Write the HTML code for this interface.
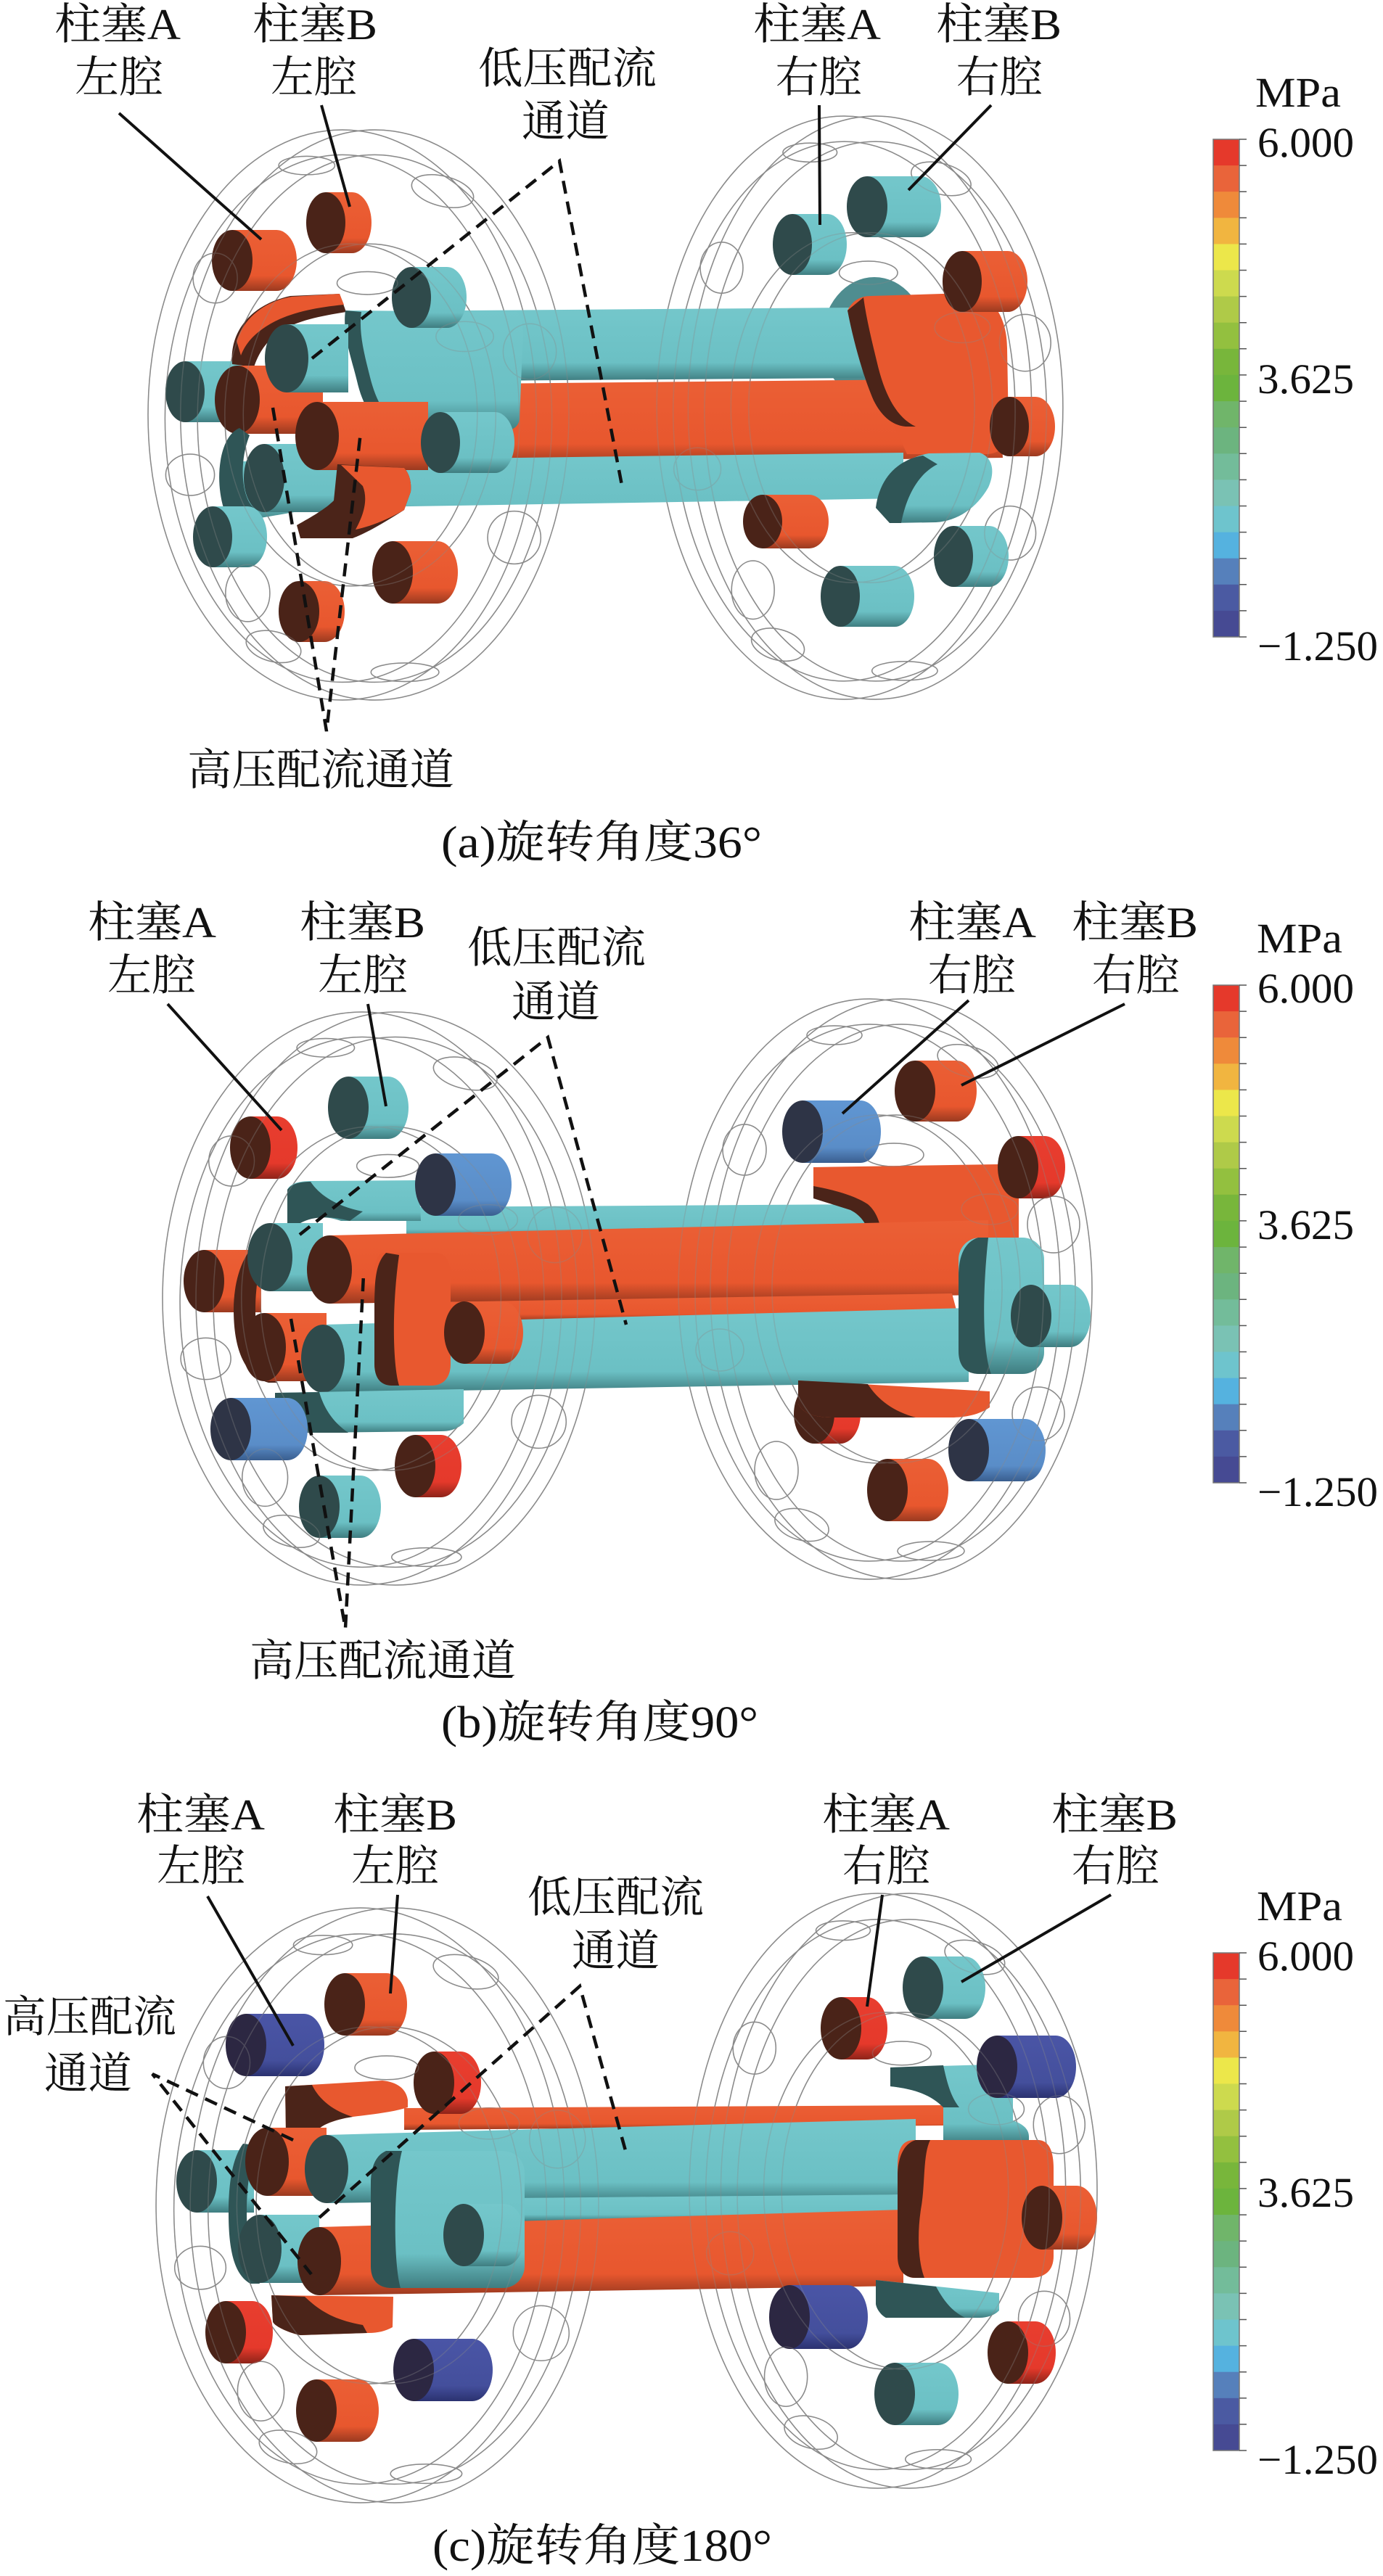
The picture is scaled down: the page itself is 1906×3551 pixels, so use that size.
<!DOCTYPE html>
<html><head><meta charset="utf-8">
<style>
html,body{margin:0;padding:0;background:#fff}
svg{display:block}
.o{fill:url(#go)}.c{fill:url(#gc)}.r{fill:url(#gr)}.b{fill:url(#gb)}.i{fill:url(#gi)}
.fo{fill:#4a2318}.fc{fill:#2f4a4b}.fb{fill:#2e3446}.fi{fill:#2c2742}
.dk{fill:#4b2419}.dc{fill:#2f5556}.of{fill:#e8582f}
.t{font-family:"Liberation Serif","Noto Serif CJK SC",serif;font-size:60px;fill:#111}
.n{font-family:"Liberation Serif",serif;font-size:58px;fill:#111}
.ld{stroke:#111;stroke-width:4;fill:none}
.ds{stroke:#111;stroke-width:4.5;fill:none;stroke-dasharray:18 11}
</style></head><body>
<svg xmlns="http://www.w3.org/2000/svg" xmlns:xlink="http://www.w3.org/1999/xlink" width="1906" height="3551" viewBox="0 0 1906 3551">
<defs>
<linearGradient id="go" x1="0" y1="0" x2="0" y2="1"><stop offset="0" stop-color="#eb5f35"/><stop offset="0.75" stop-color="#e8572e"/><stop offset="1" stop-color="#9a3a20"/></linearGradient>
<linearGradient id="gc" x1="0" y1="0" x2="0" y2="1"><stop offset="0" stop-color="#74c7cb"/><stop offset="0.75" stop-color="#6bc0c4"/><stop offset="1" stop-color="#3f7d80"/></linearGradient>
<linearGradient id="gr" x1="0" y1="0" x2="0" y2="1"><stop offset="0" stop-color="#e83e2f"/><stop offset="0.75" stop-color="#e5392b"/><stop offset="1" stop-color="#8e2419"/></linearGradient>
<linearGradient id="gb" x1="0" y1="0" x2="0" y2="1"><stop offset="0" stop-color="#6096d2"/><stop offset="0.75" stop-color="#5a8dc8"/><stop offset="1" stop-color="#3a5e8f"/></linearGradient>
<linearGradient id="gi" x1="0" y1="0" x2="0" y2="1"><stop offset="0" stop-color="#4a55a6"/><stop offset="0.75" stop-color="#444f9c"/><stop offset="1" stop-color="#2b3270"/></linearGradient>
<g id="rings" fill="none" stroke="#8a8a8a" stroke-width="1.5">
<ellipse cx="-22" cy="0" rx="263" ry="400" vector-effect="non-scaling-stroke"/>
<ellipse cx="22" cy="0" rx="263" ry="400" vector-effect="non-scaling-stroke"/>
<ellipse cx="-22" cy="5" rx="240" ry="370" vector-effect="non-scaling-stroke"/>
<ellipse cx="22" cy="5" rx="240" ry="370" vector-effect="non-scaling-stroke"/>
<ellipse cx="-10" cy="0" rx="171" ry="240" vector-effect="non-scaling-stroke"/>
<ellipse cx="15" cy="0" rx="171" ry="240" vector-effect="non-scaling-stroke"/>
<ellipse cx="-70" cy="-350" rx="38" ry="13" vector-effect="non-scaling-stroke"/>
<ellipse cx="114" cy="-314" rx="43" ry="21" transform="rotate(15 114 -314)" vector-effect="non-scaling-stroke"/>
<ellipse cx="-228" cy="84" rx="33" ry="29" vector-effect="non-scaling-stroke"/>
<ellipse cx="-115" cy="325" rx="38" ry="21" transform="rotate(15 -115 325)" vector-effect="non-scaling-stroke"/>
<ellipse cx="63" cy="361" rx="46" ry="13" vector-effect="non-scaling-stroke"/>
<ellipse cx="12" cy="-185" rx="41" ry="16" vector-effect="non-scaling-stroke"/>
<ellipse cx="232" cy="-89" rx="36" ry="39" vector-effect="non-scaling-stroke"/>
<ellipse cx="-194" cy="-192" rx="30" ry="35" vector-effect="non-scaling-stroke"/>
<ellipse cx="144" cy="-110" rx="39" ry="21" vector-effect="non-scaling-stroke"/>
<ellipse cx="211" cy="172" rx="36" ry="37" vector-effect="non-scaling-stroke"/>
<ellipse cx="-150" cy="250" rx="30" ry="40" vector-effect="non-scaling-stroke"/>
</g>
<g id="cbar">
<rect x="0" y="0" width="36" height="36.6" fill="#e5392b"/>
<rect x="0" y="36.1" width="36" height="36.6" fill="#e9643a"/>
<rect x="0" y="72.2" width="36" height="36.6" fill="#ef8a3a"/>
<rect x="0" y="108.3" width="36" height="36.6" fill="#f1b540"/>
<rect x="0" y="144.4" width="36" height="36.6" fill="#ece74a"/>
<rect x="0" y="180.5" width="36" height="36.6" fill="#cdda4e"/>
<rect x="0" y="216.6" width="36" height="36.6" fill="#afca48"/>
<rect x="0" y="252.7" width="36" height="36.6" fill="#93c03f"/>
<rect x="0" y="288.8" width="36" height="36.6" fill="#78b63b"/>
<rect x="0" y="324.9" width="36" height="36.6" fill="#6cb43d"/>
<rect x="0" y="361.1" width="36" height="36.6" fill="#70b56a"/>
<rect x="0" y="397.2" width="36" height="36.6" fill="#6cb47f"/>
<rect x="0" y="433.3" width="36" height="36.6" fill="#73bc9a"/>
<rect x="0" y="469.4" width="36" height="36.6" fill="#7ac2b4"/>
<rect x="0" y="505.5" width="36" height="36.6" fill="#6ec4cd"/>
<rect x="0" y="541.6" width="36" height="36.6" fill="#55b2df"/>
<rect x="0" y="577.7" width="36" height="36.6" fill="#5680bb"/>
<rect x="0" y="613.8" width="36" height="36.6" fill="#4b5aa2"/>
<rect x="0" y="649.9" width="36" height="36.1" fill="#464a93"/>
<rect x="0" y="0" width="36" height="686" fill="none" stroke="#777" stroke-width="1.5"/>
<path d="M36,0H46M36,36.1H46M36,72.2H46M36,108.3H46M36,144.4H46M36,180.5H46M36,216.6H46M36,252.7H46M36,288.8H46M36,324.9H46M36,361.1H46M36,397.2H46M36,433.3H46M36,469.4H46M36,505.5H46M36,541.6H46M36,577.7H46M36,613.8H46M36,649.9H46M36,686H46" stroke="#555" stroke-width="1.5"/>
</g>
</defs>

<rect x="0" y="0" width="1906" height="3551" fill="#fff"/>

<!-- ================= PANEL (a) ================= -->
<use xlink:href="#rings" href="#rings" transform="translate(494,572) scale(1.0175,0.9825)"/>
<use xlink:href="#rings" href="#rings" transform="translate(1185,562) scale(0.982,1.005)"/>
<ellipse cx="1205" cy="468" rx="72" ry="86" fill="#4f8d90"/>
<path class="c" d="M640,428L1178,424L1190,521L640,525Z"/>
<path class="o" d="M560,530L1375,522L1382,631L560,642Z"/>
<path class="of" d="M1168,428C1175,414 1186,408 1200,408L1330,404C1370,404 1388,440 1388,480L1390,592C1390,615 1378,625 1360,626L1250,626L1232,586C1210,562 1196,522 1186,482Z"/>
<path class="dk" d="M1168,428C1176,470 1190,520 1204,552C1214,572 1228,586 1248,588L1262,588C1236,576 1220,545 1210,505C1202,472 1194,440 1190,410Z"/>
<path class="c" d="M330,636L1245,624L1245,687L440,700L330,719Z"/>
<path class="c" d="M1207,700C1215,660 1240,632 1280,625L1350,624C1368,630 1372,650 1362,672C1346,700 1320,718 1290,720L1228,721Z"/>
<path class="dc" d="M1207,700C1212,660 1236,634 1272,628L1292,640C1262,655 1248,690 1242,721L1226,721Z"/>
<path class="c" d="M255,498H340V582H255Z"/><ellipse class="fc" cx="255" cy="540" rx="27" ry="42"/>
<path class="dk" d="M320,502C316,458 345,420 400,408L468,405L477,430C440,436 410,442 388,456C366,470 356,488 350,506Z"/>
<path class="of" d="M326,470C336,440 362,416 402,409L468,405L474,420C432,424 396,432 370,448C350,460 338,474 332,490Z"/>
<path class="c" d="M476,428L712,430C722,440 722,460 720,480L716,578C714,590 705,594 690,594L545,594C515,585 500,560 492,525C484,492 472,462 476,428Z"/>
<path class="dc" d="M476,428C472,462 484,492 492,525C500,560 515,585 545,594L560,594C532,580 518,552 510,520C502,488 494,458 498,430Z"/>
<path class="o" d="M327,504H445V598H327Z"/><ellipse class="fo" cx="327" cy="551" rx="31" ry="47"/>
<path class="c" d="M395,447H480V541H395Z"/><ellipse class="fc" cx="395" cy="494" rx="30" ry="47"/>
<path class="dc" d="M330,590C302,602 296,660 308,700C316,714 328,720 345,720L350,700C334,688 328,640 344,600Z"/>
<path class="c" d="M364,612H470V706H364Z"/><ellipse class="fc" cx="364" cy="659" rx="28" ry="47"/>
<path class="o" d="M437,554H590V648H437Z"/><ellipse class="fo" cx="437" cy="601" rx="30" ry="47"/>
<path class="dk" d="M465,640L557,645C566,655 567,668 566,678L557,703C530,720 505,735 486,742L414,742L409,724C430,712 448,702 460,690Z"/>
<path class="of" d="M470,641L557,645C566,655 567,668 566,678L557,703C535,716 510,726 490,730C500,712 508,690 500,670Z"/>
<path class="c" d="M607,568H682A27,42 0 0 1 682,652H607Z"/><ellipse class="fc" cx="607" cy="610" rx="27" ry="42"/>
<path class="c" d="M567,368H616A27,42 0 0 1 616,452H567Z"/><ellipse class="fc" cx="567" cy="410" rx="27" ry="42"/>
<path class="o" d="M320,317H381A28,42 0 0 1 381,401H320Z"/><ellipse class="fo" cx="320" cy="359" rx="28" ry="42"/>
<path class="o" d="M449,265H485A27,42 0 0 1 485,349H449Z"/><ellipse class="fo" cx="449" cy="307" rx="27" ry="42"/>
<path class="c" d="M293,698H341A27,42 0 0 1 341,782H293Z"/><ellipse class="fc" cx="293" cy="740" rx="27" ry="42"/>
<path class="o" d="M541,746H603A28,43 0 0 1 603,832H541Z"/><ellipse class="fo" cx="541" cy="789" rx="28" ry="43"/>
<path class="o" d="M412,801H447A28,42 0 0 1 447,885H412Z"/><ellipse class="fo" cx="412" cy="843" rx="28" ry="42"/>
<path class="c" d="M1092,295H1140A27,42 0 0 1 1140,379H1092Z"/><ellipse class="fc" cx="1092" cy="337" rx="27" ry="42"/>
<path class="c" d="M1195,243H1269A28,42 0 0 1 1269,327H1195Z"/><ellipse class="fc" cx="1195" cy="285" rx="28" ry="42"/>
<path class="o" d="M1326,346H1389A27,42 0 0 1 1389,430H1326Z"/><ellipse class="fo" cx="1326" cy="388" rx="27" ry="42"/>
<path class="o" d="M1391,547H1427A27,41 0 0 1 1427,629H1391Z"/><ellipse class="fo" cx="1391" cy="588" rx="27" ry="41"/>
<path class="o" d="M1051,682H1115A27,37 0 0 1 1115,756H1051Z"/><ellipse class="fo" cx="1051" cy="719" rx="27" ry="37"/>
<path class="c" d="M1314,725H1363A27,42 0 0 1 1363,809H1314Z"/><ellipse class="fc" cx="1314" cy="767" rx="27" ry="42"/>
<path class="c" d="M1158,780H1233A27,42 0 0 1 1233,864H1158Z"/><ellipse class="fc" cx="1158" cy="822" rx="27" ry="42"/>
<g opacity="0.35">
<use xlink:href="#rings" href="#rings" transform="translate(494,572) scale(1.0175,0.9825)"/>
<use xlink:href="#rings" href="#rings" transform="translate(1185,562) scale(0.982,1.005)"/>
</g>
<path class="ld" d="M164,156L360,330M443,145L482,285M1129,145L1130,310M1366,145L1252,262"/>
<path class="ds" d="M430,494L771,222L858,674"/>
<path class="ds" d="M376,562L450,1008L497,596"/>
<text class="t" x="75" y="54" textLength="174" lengthAdjust="spacingAndGlyphs">柱塞A</text>
<text class="t" x="103" y="127" textLength="122" lengthAdjust="spacingAndGlyphs">左腔</text>
<text class="t" x="348" y="54" textLength="172" lengthAdjust="spacingAndGlyphs">柱塞B</text>
<text class="t" x="373" y="127" textLength="119" lengthAdjust="spacingAndGlyphs">左腔</text>
<text class="t" x="659" y="115" textLength="246" lengthAdjust="spacingAndGlyphs">低压配流</text>
<text class="t" x="719" y="188" textLength="121" lengthAdjust="spacingAndGlyphs">通道</text>
<text class="t" x="1038" y="54" textLength="176" lengthAdjust="spacingAndGlyphs">柱塞A</text>
<text class="t" x="1069" y="127" textLength="119" lengthAdjust="spacingAndGlyphs">右腔</text>
<text class="t" x="1290" y="54" textLength="173" lengthAdjust="spacingAndGlyphs">柱塞B</text>
<text class="t" x="1318" y="127" textLength="119" lengthAdjust="spacingAndGlyphs">右腔</text>
<text class="t" x="258" y="1082" textLength="368" lengthAdjust="spacingAndGlyphs">高压配流通道</text>
<text class="t" x="608" y="1182" textLength="442" lengthAdjust="spacingAndGlyphs" style="font-size:62px">(a)旋转角度36°</text>
<use xlink:href="#cbar" href="#cbar" transform="translate(1672,192)"/>
<text class="n" x="1730" y="147" textLength="118" lengthAdjust="spacingAndGlyphs">MPa</text>
<text class="n" x="1733" y="216" textLength="133" lengthAdjust="spacingAndGlyphs">6.000</text>
<text class="n" x="1733" y="542" textLength="133" lengthAdjust="spacingAndGlyphs">3.625</text>
<text class="n" x="1733" y="910" textLength="166" lengthAdjust="spacingAndGlyphs">−1.250</text>

<!-- ================= PANEL (b) ================= -->
<use xlink:href="#rings" href="#rings" transform="translate(522,1790) scale(1.0456,0.9875)"/>
<use xlink:href="#rings" href="#rings" transform="translate(1220,1777)"/>
<path class="c" d="M560,1664L1200,1660L1200,1702L560,1706Z"/>
<path class="c" d="M396,1640C400,1632 410,1628 430,1628L578,1627L580,1683L470,1683C450,1676 430,1676 414,1685L396,1686Z"/>
<path class="dc" d="M396,1640C402,1632 412,1629 428,1629C442,1650 468,1664 500,1670L482,1683C456,1676 432,1676 414,1686L396,1686Z"/>
<path class="of" d="M1121,1609L1375,1605C1398,1605 1404,1625 1404,1650L1404,1745C1404,1762 1395,1770 1380,1770L1195,1772L1195,1660C1170,1650 1140,1645 1121,1642Z"/>
<path class="dk" d="M1121,1635C1148,1640 1178,1648 1196,1660C1210,1672 1214,1690 1216,1708L1200,1708C1196,1690 1188,1676 1172,1668L1121,1652Z"/>
<path class="o" d="M454,1703L1362,1682L1362,1785L454,1797Z"/>
<path class="o" d="M600,1795L1312,1783L1320,1813L600,1821Z"/>
<path class="c" d="M445,1826L1335,1803L1335,1905L445,1920Z"/>
<rect class="c" x="1321" y="1706" width="118" height="188" rx="30"/>
<path class="dc" d="M1348,1706C1330,1712 1321,1730 1321,1760L1321,1862C1321,1882 1330,1894 1350,1894L1366,1894C1356,1870 1352,1800 1362,1706Z"/>
<path class="r" d="M1122,1908H1158A28,41 0 0 1 1158,1990H1122Z"/><ellipse class="fo" cx="1122" cy="1949" rx="28" ry="41"/>
<path class="of" d="M1100,1903L1364,1918L1364,1940C1350,1950 1330,1954 1311,1954L1150,1954C1125,1954 1107,1950 1100,1935Z"/>
<path class="dk" d="M1100,1903L1196,1908C1210,1930 1232,1946 1262,1954L1150,1954C1125,1954 1107,1950 1100,1935Z"/>
<path class="o" d="M281,1723H360V1809H281Z"/><ellipse class="fo" cx="281" cy="1766" rx="28" ry="43"/>
<path class="dk" d="M365,1706C335,1720 322,1765 322,1805C322,1850 332,1895 370,1906L382,1906C360,1890 352,1850 352,1805C352,1765 360,1725 382,1706Z"/>
<path class="c" d="M372,1686H445V1780H372Z"/><ellipse class="fc" cx="372" cy="1733" rx="31" ry="47"/>
<ellipse class="fo" cx="454" cy="1750" rx="31" ry="47"/>
<path class="o" d="M364,1810H450V1904H364Z"/><ellipse class="fo" cx="364" cy="1857" rx="30" ry="47"/>
<ellipse class="fc" cx="445" cy="1873" rx="30" ry="47"/>
<path class="of" d="M530,1727L600,1727C615,1727 621,1740 621,1760L621,1880C621,1900 610,1910 595,1910L540,1910C525,1910 516,1895 516,1880L516,1760C516,1740 520,1727 530,1727Z"/>
<path class="dk" d="M532,1727C519,1740 516,1760 516,1800L516,1880C516,1900 525,1910 540,1910L550,1910C541,1880 540,1800 550,1730Z"/>
<path class="o" d="M640,1794H693A28,43 0 0 1 693,1880H640Z"/><ellipse class="fo" cx="640" cy="1837" rx="28" ry="43"/>
<path class="c" d="M379,1920L639,1915L639,1962C630,1970 620,1973 608,1973L427,1975C400,1975 379,1965 379,1954Z"/>
<path class="dc" d="M379,1920L440,1919C446,1940 458,1960 480,1975L427,1975C400,1975 379,1965 379,1954Z"/>
<path class="b" d="M600,1590H677A28,43 0 0 1 677,1676H600Z"/><ellipse class="fb" cx="600" cy="1633" rx="28" ry="43"/>
<path class="r" d="M345,1539H382A28,43 0 0 1 382,1625H345Z"/><ellipse class="fo" cx="345" cy="1582" rx="28" ry="43"/>
<path class="c" d="M480,1484H535A28,43 0 0 1 535,1570H480Z"/><ellipse class="fc" cx="480" cy="1527" rx="28" ry="43"/>
<path class="b" d="M318,1927H396A28,43 0 0 1 396,2013H318Z"/><ellipse class="fb" cx="318" cy="1970" rx="28" ry="43"/>
<path class="r" d="M572,1978H608A28,43 0 0 1 608,2064H572Z"/><ellipse class="fo" cx="572" cy="2021" rx="28" ry="43"/>
<path class="c" d="M440,2034H497A28,43 0 0 1 497,2120H440Z"/><ellipse class="fc" cx="440" cy="2077" rx="28" ry="43"/>
<path class="b" d="M1106,1517H1186A28,43 0 0 1 1186,1603H1106Z"/><ellipse class="fb" cx="1106" cy="1560" rx="28" ry="43"/>
<path class="o" d="M1261,1462H1318A28,42 0 0 1 1318,1546H1261Z"/><ellipse class="fo" cx="1261" cy="1504" rx="28" ry="42"/>
<path class="r" d="M1403,1566H1440A28,43 0 0 1 1440,1652H1403Z"/><ellipse class="fo" cx="1403" cy="1609" rx="28" ry="43"/>
<path class="c" d="M1421,1771H1475A28,43 0 0 1 1475,1857H1421Z"/><ellipse class="fc" cx="1421" cy="1814" rx="28" ry="43"/>
<path class="b" d="M1335,1956H1413A28,43 0 0 1 1413,2042H1335Z"/><ellipse class="fb" cx="1335" cy="1999" rx="28" ry="43"/>
<path class="o" d="M1223,2011H1279A28,43 0 0 1 1279,2097H1223Z"/><ellipse class="fo" cx="1223" cy="2054" rx="28" ry="43"/>
<g opacity="0.35">
<use xlink:href="#rings" href="#rings" transform="translate(522,1790) scale(1.0456,0.9875)"/>
<use xlink:href="#rings" href="#rings" transform="translate(1220,1777)"/>
</g>
<path class="ld" d="M231,1384L388,1558M507,1384L532,1525M1335,1379L1161,1535M1550,1384L1325,1496"/>
<path class="ds" d="M413,1702L755,1430L863,1826"/>
<path class="ds" d="M401,1818L476,2245L501,1758"/>
<text class="t" x="121" y="1292" textLength="177" lengthAdjust="spacingAndGlyphs">柱塞A</text>
<text class="t" x="148" y="1365" textLength="122" lengthAdjust="spacingAndGlyphs">左腔</text>
<text class="t" x="413" y="1292" textLength="173" lengthAdjust="spacingAndGlyphs">柱塞B</text>
<text class="t" x="438" y="1365" textLength="124" lengthAdjust="spacingAndGlyphs">左腔</text>
<text class="t" x="644" y="1327" textLength="246" lengthAdjust="spacingAndGlyphs">低压配流</text>
<text class="t" x="705" y="1402" textLength="122" lengthAdjust="spacingAndGlyphs">通道</text>
<text class="t" x="1252" y="1292" textLength="176" lengthAdjust="spacingAndGlyphs">柱塞A</text>
<text class="t" x="1279" y="1365" textLength="121" lengthAdjust="spacingAndGlyphs">右腔</text>
<text class="t" x="1477" y="1292" textLength="174" lengthAdjust="spacingAndGlyphs">柱塞B</text>
<text class="t" x="1505" y="1365" textLength="121" lengthAdjust="spacingAndGlyphs">右腔</text>
<text class="t" x="344" y="2310" textLength="367" lengthAdjust="spacingAndGlyphs">高压配流通道</text>
<text class="t" x="608" y="2395" textLength="437" lengthAdjust="spacingAndGlyphs" style="font-size:62px">(b)旋转角度90°</text>
<use xlink:href="#cbar" href="#cbar" transform="translate(1672,1358)"/>
<text class="n" x="1732" y="1313" textLength="118" lengthAdjust="spacingAndGlyphs">MPa</text>
<text class="n" x="1733" y="1382" textLength="133" lengthAdjust="spacingAndGlyphs">6.000</text>
<text class="n" x="1733" y="1708" textLength="133" lengthAdjust="spacingAndGlyphs">3.625</text>
<text class="n" x="1733" y="2076" textLength="166" lengthAdjust="spacingAndGlyphs">−1.250</text>

<!-- ================= PANEL (c) ================= -->
<use xlink:href="#rings" href="#rings" transform="translate(520,3040) scale(1.070,1.025)"/>
<use xlink:href="#rings" href="#rings" transform="translate(1231,3020) scale(0.986,1.025)"/>
<path class="o" d="M557,2906L1300,2902L1300,2930L557,2936Z"/>
<path class="c" d="M1227,2850L1396,2845L1396,2923C1410,2928 1418,2935 1418,2945L1418,2955L1300,2955L1300,2905C1285,2890 1265,2880 1227,2876Z"/>
<path class="dc" d="M1227,2850L1300,2847C1305,2870 1310,2890 1322,2905L1300,2905C1285,2890 1265,2880 1227,2876Z"/>
<path class="c" d="M450,2943L1262,2921L1262,3025L450,3037Z"/>
<path class="c" d="M700,3030L1262,3025L1262,3056L700,3062Z"/>
<path class="o" d="M440,3070L1245,3046L1245,3151L440,3164Z"/>
<path class="of" d="M1260,2950L1430,2950C1448,2950 1452,2970 1452,2990L1452,3110C1452,3130 1440,3140 1420,3140L1260,3140C1245,3140 1237,3125 1237,3110L1237,2985C1237,2960 1245,2950 1260,2950Z"/>
<path class="dk" d="M1262,2950C1245,2955 1237,2975 1237,3000L1237,3110C1237,3128 1245,3140 1262,3140L1274,3140C1266,3120 1263,3080 1270,3040C1275,3010 1272,2970 1282,2950Z"/>
<path class="c" d="M1207,3143L1377,3161L1377,3185C1370,3192 1360,3195 1350,3195L1221,3195C1212,3190 1207,3180 1207,3175Z"/>
<path class="dc" d="M1207,3143L1290,3152C1300,3170 1310,3185 1330,3195L1221,3195C1212,3190 1207,3180 1207,3175Z"/>
<path class="of" d="M393,2876L527,2868C548,2870 560,2880 562,2895L562,2905C540,2912 510,2915 486,2918C460,2922 440,2930 435,2940L394,2940Z"/>
<path class="dk" d="M393,2876L430,2874C440,2895 460,2910 486,2918C460,2922 440,2930 435,2940L394,2940Z"/>
<path class="c" d="M271,2964H350V3050H271Z"/><ellipse class="fc" cx="271" cy="3007" rx="28" ry="43"/>
<path class="dc" d="M335,2955C320,2975 315,3010 315,3050C315,3100 322,3135 345,3148L358,3148C345,3120 340,3080 340,3050C340,3010 345,2975 360,2958Z"/>
<path class="o" d="M368,2933H450V3027H368Z"/><ellipse class="fo" cx="368" cy="2980" rx="30" ry="47"/>
<ellipse class="fc" cx="450" cy="2990" rx="30" ry="47"/>
<path class="c" d="M358,3053H440V3147H358Z"/><ellipse class="fc" cx="358" cy="3100" rx="30" ry="47"/>
<ellipse class="fo" cx="440" cy="3117" rx="30" ry="47"/>
<rect class="c" x="511" y="2965" width="212" height="189" rx="30"/>
<path class="dc" d="M532,2965C516,2972 511,2990 511,3010L511,3124C511,3142 520,3154 540,3154L552,3154C542,3120 542,3010 554,2965Z"/>
<path class="c" d="M639,3038H695A28,43 0 0 1 695,3124H639Z"/><ellipse class="fc" cx="639" cy="3081" rx="28" ry="43"/>
<path class="of" d="M374,3164L542,3166L541,3208C530,3214 520,3216 506,3216L414,3219C395,3215 376,3205 376,3200Z"/>
<path class="dk" d="M374,3164L420,3166C440,3185 460,3198 500,3205L506,3216L414,3219C395,3215 376,3205 376,3200Z"/>
<path class="i" d="M339,2776H419A28,43 0 0 1 419,2862H339Z"/><ellipse class="fi" cx="339" cy="2819" rx="28" ry="43"/>
<path class="o" d="M475,2720H533A28,43 0 0 1 533,2806H475Z"/><ellipse class="fo" cx="475" cy="2763" rx="28" ry="43"/>
<path class="r" d="M598,2828H635A28,43 0 0 1 635,2914H598Z"/><ellipse class="fo" cx="598" cy="2871" rx="28" ry="43"/>
<path class="r" d="M311,3172H348A28,43 0 0 1 348,3258H311Z"/><ellipse class="fo" cx="311" cy="3215" rx="28" ry="43"/>
<path class="i" d="M570,3224H651A28,43 0 0 1 651,3310H570Z"/><ellipse class="fi" cx="570" cy="3267" rx="28" ry="43"/>
<path class="o" d="M436,3280H494A28,43 0 0 1 494,3366H436Z"/><ellipse class="fo" cx="436" cy="3323" rx="28" ry="43"/>
<path class="r" d="M1159,2753H1195A28,43 0 0 1 1195,2839H1159Z"/><ellipse class="fo" cx="1159" cy="2796" rx="28" ry="43"/>
<path class="c" d="M1272,2697H1330A28,43 0 0 1 1330,2783H1272Z"/><ellipse class="fc" cx="1272" cy="2740" rx="28" ry="43"/>
<path class="i" d="M1374,2806H1455A28,43 0 0 1 1455,2892H1374Z"/><ellipse class="fi" cx="1374" cy="2849" rx="28" ry="43"/>
<path class="o" d="M1436,3013H1484A28,44 0 0 1 1484,3101H1436Z"/><ellipse class="fo" cx="1436" cy="3057" rx="28" ry="44"/>
<path class="i" d="M1088,3150H1168A28,44 0 0 1 1168,3238H1088Z"/><ellipse class="fi" cx="1088" cy="3194" rx="28" ry="44"/>
<path class="r" d="M1389,3200H1427A28,43 0 0 1 1427,3286H1389Z"/><ellipse class="fo" cx="1389" cy="3243" rx="28" ry="43"/>
<path class="c" d="M1233,3257H1293A28,43 0 0 1 1293,3343H1233Z"/><ellipse class="fc" cx="1233" cy="3300" rx="28" ry="43"/>
<g opacity="0.35">
<use xlink:href="#rings" href="#rings" transform="translate(520,3040) scale(1.070,1.025)"/>
<use xlink:href="#rings" href="#rings" transform="translate(1231,3020) scale(0.986,1.025)"/>
</g>
<path class="ld" d="M286,2614L404,2820M548,2612L538,2748M1216,2612L1195,2766M1531,2612L1325,2732"/>
<path class="ds" d="M440,3057L799,2738L863,2968"/>
<path class="ds" d="M404,2950L210,2859L429,3135"/>
<text class="t" x="188" y="2522" textLength="177" lengthAdjust="spacingAndGlyphs">柱塞A</text>
<text class="t" x="216" y="2593" textLength="122" lengthAdjust="spacingAndGlyphs">左腔</text>
<text class="t" x="459" y="2522" textLength="171" lengthAdjust="spacingAndGlyphs">柱塞B</text>
<text class="t" x="484" y="2593" textLength="121" lengthAdjust="spacingAndGlyphs">左腔</text>
<text class="t" x="727" y="2636" textLength="243" lengthAdjust="spacingAndGlyphs">低压配流</text>
<text class="t" x="788" y="2710" textLength="121" lengthAdjust="spacingAndGlyphs">通道</text>
<text class="t" x="1133" y="2522" textLength="176" lengthAdjust="spacingAndGlyphs">柱塞A</text>
<text class="t" x="1161" y="2593" textLength="121" lengthAdjust="spacingAndGlyphs">右腔</text>
<text class="t" x="1449" y="2522" textLength="174" lengthAdjust="spacingAndGlyphs">柱塞B</text>
<text class="t" x="1477" y="2593" textLength="121" lengthAdjust="spacingAndGlyphs">右腔</text>
<text class="t" x="4" y="2801" textLength="239" lengthAdjust="spacingAndGlyphs">高压配流</text>
<text class="t" x="61" y="2879" textLength="121" lengthAdjust="spacingAndGlyphs">通道</text>
<text class="t" x="596" y="3530" textLength="468" lengthAdjust="spacingAndGlyphs" style="font-size:62px">(c)旋转角度180°</text>
<use xlink:href="#cbar" href="#cbar" transform="translate(1672,2692)"/>
<text class="n" x="1732" y="2647" textLength="118" lengthAdjust="spacingAndGlyphs">MPa</text>
<text class="n" x="1733" y="2716" textLength="133" lengthAdjust="spacingAndGlyphs">6.000</text>
<text class="n" x="1733" y="3042" textLength="133" lengthAdjust="spacingAndGlyphs">3.625</text>
<text class="n" x="1733" y="3410" textLength="166" lengthAdjust="spacingAndGlyphs">−1.250</text>
</svg>
</body></html>
